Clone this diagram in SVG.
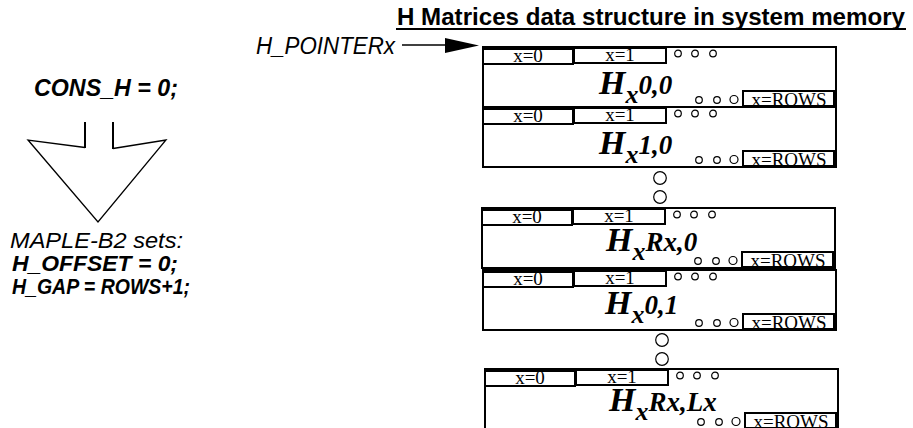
<svg xmlns="http://www.w3.org/2000/svg" width="913" height="428" viewBox="0 0 913 428">
<style>
.box{fill:none;stroke:#000;stroke-width:2}
.cell{fill:#fff;stroke:#000;stroke-width:2}
.ct{font-family:"Liberation Serif",serif;font-size:19px;fill:#000;text-anchor:middle}
.dot{fill:none;stroke:#000;stroke-width:1.2}
.big{fill:none;stroke:#000;stroke-width:1.2}
.hl{font-family:"Liberation Serif",serif;font-weight:bold;font-style:italic;fill:#000}
.hH{font-size:34px}
.hx{font-size:26px}
.hr{font-size:27px}
.sans{font-family:"Liberation Sans",Arial,sans-serif;fill:#000}
.bi{font-weight:bold;font-style:italic}
.it{font-style:italic}
</style>
<defs>
<g id="boxtpl">
<rect class="box" x="0" y="0" width="353" height="60"/>
<rect class="cell" x="0" y="2" width="90" height="15"/>
<rect class="cell" x="91" y="1" width="92" height="15"/>
<text class="ct" x="45" y="15">x=0</text>
<text class="ct" x="137" y="14">x=1</text>
<circle class="dot" cx="195" cy="6.5" r="3.3"/>
<circle class="dot" cx="212" cy="6.5" r="3.3"/>
<circle class="dot" cx="230" cy="6.5" r="3.3"/>
<circle class="dot" cx="216" cy="53" r="3.3"/>
<circle class="dot" cx="234" cy="53" r="3.3"/>
<circle class="dot" cx="251" cy="52.5" r="4"/>
<rect class="cell" x="260" y="44" width="91" height="15"/>
<line x1="352" y1="44" x2="352" y2="60" stroke="#000" stroke-width="3"/>
<text class="ct" x="306" y="58.5">x=ROWS</text>
</g>
</defs>

<text class="sans" x="397" y="25" font-size="23" font-weight="bold" textLength="508" lengthAdjust="spacingAndGlyphs">H Matrices data structure in system memory</text>
<line x1="396" y1="29" x2="906" y2="29" stroke="#000" stroke-width="2"/>
<text class="sans it" x="256" y="54" font-size="23" textLength="139" lengthAdjust="spacingAndGlyphs">H_POINTERx</text>

<g id="left-text">
<text class="sans bi" x="34" y="96" font-size="24" textLength="144" lengthAdjust="spacingAndGlyphs">CONS_H = 0;</text>
<text class="sans it" x="10" y="248" font-size="22" textLength="173" lengthAdjust="spacingAndGlyphs">MAPLE-B2 sets:</text>
<text class="sans bi" x="12" y="271" font-size="22" textLength="166" lengthAdjust="spacingAndGlyphs">H_OFFSET = 0;</text>
<text class="sans bi" x="12" y="294" font-size="22" textLength="178" lengthAdjust="spacingAndGlyphs">H_GAP = ROWS+1;</text>
</g>

<g id="connectors">
<line x1="402" y1="45" x2="450" y2="45" stroke="#000" stroke-width="1.6"/>
<polygon points="445,38 479,45.5 445,53" fill="#000"/>
<line x1="85" y1="122" x2="85" y2="148" stroke="#000" stroke-width="2"/>
<line x1="113" y1="122" x2="113" y2="149" stroke="#000" stroke-width="2"/>
<polyline points="85,147.5 28,140 98,222 166,140 113,148.5" fill="none" stroke="#000" stroke-width="1.3"/>
<circle class="big" cx="660" cy="178" r="6.3"/>
<circle class="big" cx="660" cy="197" r="6.3"/>
<circle class="big" cx="662" cy="340" r="6.3"/>
<circle class="big" cx="662" cy="359" r="6.3"/>
</g>

<g id="h00" transform="translate(483,47)">
<use href="#boxtpl"/>
<text class="hl" x="116" y="47"><tspan class="hH">H</tspan><tspan class="hx" dy="9">x</tspan><tspan class="hr" dy="-9">0,0</tspan></text>
</g>
<g id="h10" transform="translate(483,107)">
<use href="#boxtpl"/>
<text class="hl" x="116" y="47"><tspan class="hH">H</tspan><tspan class="hx" dy="9">x</tspan><tspan class="hr" dy="-9">1,0</tspan></text>
</g>
<g id="hRx0" transform="translate(482,208)">
<use href="#boxtpl"/>
<text class="hl" x="124" y="43"><tspan class="hH">H</tspan><tspan class="hx" dy="9">x</tspan><tspan class="hr" dy="-9">Rx,0</tspan></text>
</g>
<g id="h01" transform="translate(483,270)">
<use href="#boxtpl"/>
<text class="hl" x="122" y="44"><tspan class="hH">H</tspan><tspan class="hx" dy="9">x</tspan><tspan class="hr" dy="-9">0,1</tspan></text>
</g>
<g id="hRxLx" transform="translate(485,369)">
<use href="#boxtpl"/>
<text class="hl" x="124" y="42"><tspan class="hH">H</tspan><tspan class="hx" dy="9">x</tspan><tspan class="hr" dy="-9">Rx,Lx</tspan></text>
</g>
</svg>
